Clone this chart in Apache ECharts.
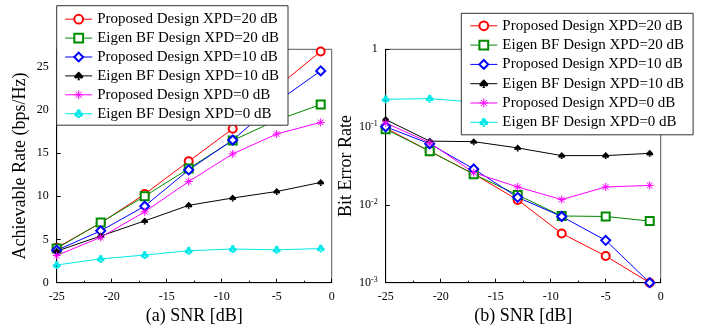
<!DOCTYPE html>
<html><head><meta charset="utf-8">
<script src="https://cdn.jsdelivr.net/npm/echarts@6/dist/echarts.min.js"></script>
<style>html,body{margin:0;padding:0;background:#fff}#c{width:708px;height:331px}</style>
</head><body><div id="c"></div>
<script>
// ---- data ----
const snr = [-25, -21, -17, -13, -9, -5, -1];
const seriesNames = ['Proposed Design XPD=20 dB','Eigen BF Design XPD=20 dB','Proposed Design XPD=10 dB','Eigen BF Design XPD=10 dB','Proposed Design XPD=0 dB','Eigen BF Design XPD=0 dB'];
// (a) achievable rate (bps/Hz)
const rateProp20  = [4.05, 6.9, 10.25, 14.05, 17.8, 22.6, 26.75];
const rateEigen20 = [3.95, 6.95, 10.0, 13.2, 16.45, 18.8, 20.6];
const rateProp10  = [3.75, 6.0, 8.85, 13.05, 16.5, 20.9, 24.5];
const rateEigen10 = [3.65, 5.4, 7.15, 8.95, 9.8, 10.55, 11.6];
const rateProp0   = [3.15, 5.25, 8.2, 11.7, 14.9, 17.2, 18.55];
const rateEigen0  = [2.05, 2.75, 3.2, 3.7, 3.9, 3.8, 3.95];
// (b) bit error rate
const berProp20  = [0.097, 0.049, 0.025, 0.0116, 0.0043, 0.0022, 0.001];
const berEigen20 = [0.094, 0.049, 0.0248, 0.0134, 0.0072, 0.0071, 0.0062];
const berProp10  = [0.101, 0.061, 0.029, 0.0125, 0.0071, 0.0035, 0.001];
const berEigen10 = [0.125, 0.066, 0.065, 0.054, 0.043, 0.043, 0.046];
const berProp0   = [0.113, 0.063, 0.026, 0.017, 0.0117, 0.017, 0.0178];
const berEigen0  = [0.228, 0.232, 0.21, 0.2, 0.2, 0.2, 0.2];
// axis ticks
const xTicks = {min: -25, max: 0, interval: 5};
const rateTicks = {min: 0, max: 27, interval: 5};
const berTicks = {min: 0.001, max: 1};

// ---- styles ----
const FONT = '"Liberation Serif", "DejaVu Serif", serif';
const SPADE = 'path://M50 0 C20 30 0 45 0 62 C0 80 25 88 45 72 L35 100 L65 100 L55 72 C75 88 100 80 100 62 C100 45 80 30 50 0 Z';
const CLUB = 'path://M26 28 A24 24 0 1 1 74 28 A24 24 0 1 1 26 28 Z M2 60 A24 24 0 1 1 50 60 A24 24 0 1 1 2 60 Z M50 60 A24 24 0 1 1 98 60 A24 24 0 1 1 50 60 Z M44 60 L36 100 L64 100 L56 60 Z';
const STAR = 'path://M50 0 L50 100 M0 50 L100 50 M15 15 L85 85 M85 15 L15 85';
const styles = [
  {color: '#ff0000', symbol: 'emptyCircle', size: 8},
  {color: '#008a00', symbol: 'emptyRect', size: 8},
  {color: '#0000ff', symbol: 'emptyDiamond', size: 9},
  {color: '#000000', symbol: SPADE, size: 7},
  {color: '#ff00ff', symbol: STAR, size: 8, stroke: true},
  {color: '#00e8e8', symbol: CLUB, size: 8}
];
const rateData = [rateProp20, rateEigen20, rateProp10, rateEigen10, rateProp0, rateEigen0];
const berData = [berProp20, berEigen20, berProp10, berEigen10, berProp0, berEigen0];

function mk(i, arr, gi) {
  const s = styles[i];
  return {
    name: seriesNames[i], type: 'line', xAxisIndex: gi, yAxisIndex: gi,
    data: snr.map((x, k) => [x, arr[k]]),
    symbol: s.symbol, symbolSize: s.size, showAllSymbol: true,
    lineStyle: {color: s.color, width: 1},
    itemStyle: s.stroke ? {color: s.color, borderColor: s.color, borderWidth: 1} : {color: s.color, borderWidth: 1},
    emphasis: {disabled: true}, animation: false, clip: false
  };
}
const series = [];
for (let i = 0; i < 6; i++) series.push(mk(i, rateData[i], 0));
for (let i = 0; i < 6; i++) series.push(mk(i, berData[i], 1));

const axisCommon = {
  axisLine: {show: true, onZero: false, lineStyle: {color: '#000', width: 1}},
  axisTick: {show: true, inside: true, length: 4, lineStyle: {color: '#000'}},
  splitLine: {show: false},
  axisLabel: {color: '#000', fontFamily: FONT, fontSize: 12, margin: 8},
  nameTextStyle: {color: '#000', fontFamily: FONT, fontSize: 18}
};
function xAx(gi, name) {
  return Object.assign({}, axisCommon, {
    type: 'value', gridIndex: gi, min: xTicks.min, max: xTicks.max, interval: xTicks.interval,
    name: name, nameLocation: 'middle', nameGap: 20,
    minorTick: {show: true, splitNumber: 2, length: 2, lineStyle: {color: '#000'}}
  });
}
const legendCommon = {
  orient: 'vertical', itemWidth: 27, itemHeight: 11, itemGap: 3.9,
  backgroundColor: '#fff', borderColor: '#333', borderWidth: 1, borderRadius: 0,
  textStyle: {color: '#000', fontFamily: FONT, fontSize: 15, lineHeight: 14},
  lineStyle: {width: 1}, itemStyle: {borderWidth: 1},
  selectedMode: false, data: seriesNames, z: 10
};

const chart = echarts.init(document.getElementById('c'), null, {renderer: 'canvas'});
chart.setOption({
  backgroundColor: '#fff',
  animation: false,
  grid: [
    {left: 56.7, top: 49.3, width: 275, height: 233.4, show: true, borderColor: '#555', borderWidth: 1, containLabel: false},
    {left: 385.7, top: 49.3, width: 275, height: 233.4, show: true, borderColor: '#555', borderWidth: 1, containLabel: false}
  ],
  xAxis: [xAx(0, '(a) SNR [dB]'), xAx(1, '(b) SNR [dB]')],
  yAxis: [
    Object.assign({}, axisCommon, {
      type: 'value', gridIndex: 0, min: rateTicks.min, max: rateTicks.max, interval: rateTicks.interval,
      name: 'Achievable Rate (bps/Hz)', nameLocation: 'middle', nameGap: 27,
      axisLabel: Object.assign({}, axisCommon.axisLabel, {formatter: v => (v % 5 === 0 ? String(v) : '')})
    }),
    Object.assign({}, axisCommon, {
      type: 'log', logBase: 10, gridIndex: 1, min: berTicks.min, max: berTicks.max,
      name: 'Bit Error Rate', nameLocation: 'middle', nameGap: 30,
      axisLabel: Object.assign({}, axisCommon.axisLabel, {
        formatter: v => { const e = Math.round(Math.log10(v)); return e === 0 ? '{b|1}' : '{b|10}{s|' + e + '}'; },
        rich: {
          b: {fontFamily: FONT, fontSize: 12, lineHeight: 14, color: '#000'},
          s: {fontFamily: FONT, fontSize: 8, lineHeight: 6, verticalAlign: 'top', color: '#000'}
        }
      })
    })
  ],
  legend: [
    Object.assign({}, legendCommon, {left: 56.7, top: 5.7, padding: [6, 9, 4, 8]}),
    Object.assign({}, legendCommon, {left: 461.3, top: 13.3, padding: [5, 9, 5, 8.5], itemGap: 4.3})
  ],
  series: series
});
</script></body></html>
